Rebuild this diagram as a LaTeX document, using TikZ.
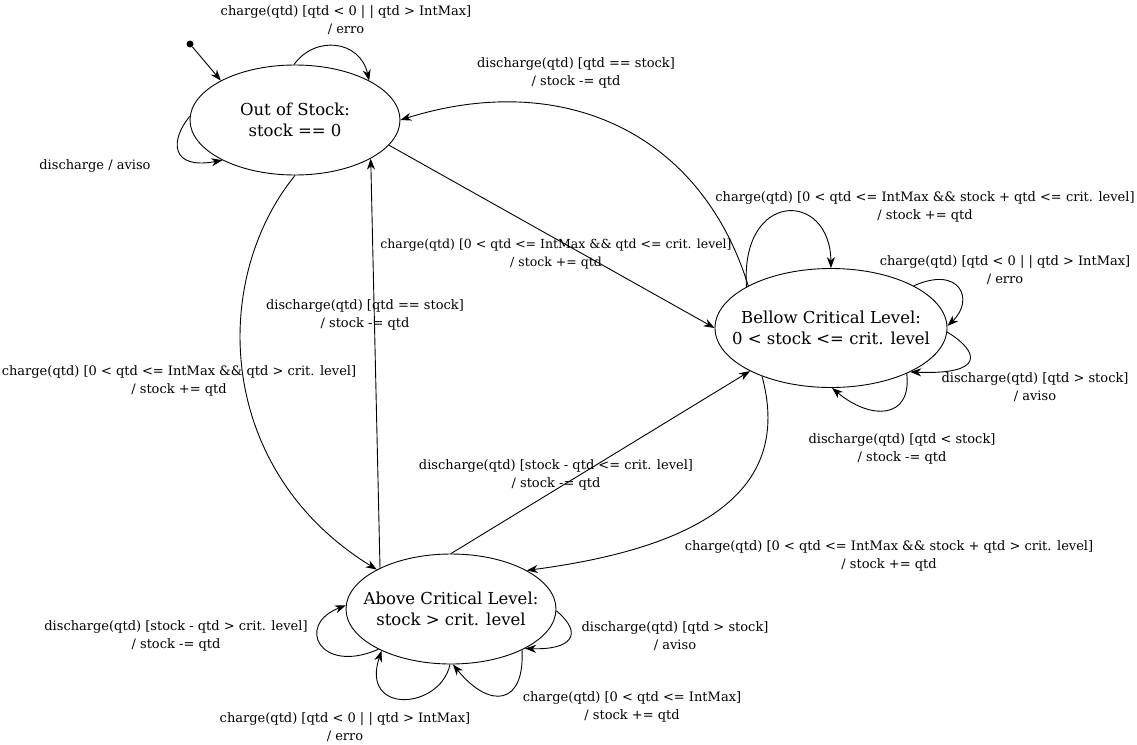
\documentclass[tikz,border=0pt]{standalone}
\usepackage{fontspec}
\setmainfont{DejaVu Serif}
\usetikzlibrary{shapes.geometric,arrows.meta}
\begin{document}
\begin{tikzpicture}[x=1pt,y=-1pt,
  state/.style={ellipse,draw,line width=0.9pt,inner xsep=-40pt,inner ysep=-20pt,align=center,font=\fontsize{16.5}{21}\selectfont},
  lbl/.style={align=center,inner sep=0pt,font=\fontsize{13}{18}\selectfont},
  edge/.style={line width=0.9pt,-{Stealth[length=11pt,width=8pt,inset=3.5pt]}}]
\useasboundingbox (0,0) rectangle (1137,744);
% states
\node[state,minimum width=210pt,minimum height=110pt] (out) at (295,120) {Out of Stock:\\stock == 0};
\node[state,minimum width=232pt,minimum height=119pt] (bel) at (831,328) {Bellow Critical Level:\\0 < stock <= crit. level};
\node[state,minimum width=210pt,minimum height=110pt] (abv) at (451,609) {Above Critical Level:\\stock > crit. level};
\node[circle,fill,inner sep=0pt,minimum size=7pt] (init) at (190,44) {};
% connectors
\draw[edge] (init) -- (out.152);
\draw[edge] (out.91) .. controls (315,35) and (360,40) .. (out.28);
\draw[edge] (out.178) .. controls (170,140) and (170,170) .. (out.-151);
\draw[edge] (bel.153) .. controls (700,130) and (560,70) .. (out.0);
\draw[edge] (out.-15.6) -- (bel.180);
\draw[edge] (out.-90) .. controls (210,280) and (215,470) .. (abv.152);
\draw[edge] (abv.150) -- (out.-27.5);
\draw[edge] (abv.90) -- (bel.-152);
\draw[edge] (bel.-145) .. controls (790,480) and (720,545) .. (abv.27);
\draw[edge] (bel.154) .. controls (740,190) and (830,190) .. (bel.90);
\draw[edge] (bel.27) .. controls (960,265) and (975,300) .. (bel.1);
\draw[edge] (bel.-2) .. controls (980,352) and (985,375) .. (bel.-29);
\draw[edge] (bel.-31) .. controls (912,420) and (870,420) .. (bel.-89);
\draw[edge] (abv.-151) .. controls (320,675) and (295,625) .. (abv.178);
\draw[edge] (abv.-91) .. controls (440,710) and (360,715) .. (abv.-149);
\draw[edge] (abv.-30) .. controls (525,705) and (490,710) .. (abv.-88);
\draw[edge] (abv.-1) .. controls (585,635) and (570,650) .. (abv.-28);
% labels
\node[lbl] (l1) at (346,20) {charge(qtd) [qtd < 0 | | qtd > IntMax]\\/ erro};
\node[lbl] (l2) at (95,166) {discharge / aviso};
\node[lbl] (l3) at (576,73) {discharge(qtd) [qtd == stock]\\/ stock -= qtd};
\node[lbl,font=\fontsize{12.5}{18}\selectfont] (l4) at (556,254) {charge(qtd) [0 < qtd <= IntMax \&\& qtd <= crit. level]\\/ stock += qtd};
\node[lbl] (l5) at (179,381) {charge(qtd) [0 < qtd <= IntMax \&\& qtd > crit. level]\\/ stock += qtd};
\node[lbl] (l6) at (365,315) {discharge(qtd) [qtd == stock]\\/ stock -= qtd};
\node[lbl] (l7) at (556,475) {discharge(qtd) [stock - qtd <= crit. level]\\/ stock -= qtd};
\node[lbl] (l8) at (889,556) {charge(qtd) [0 < qtd <= IntMax \&\& stock + qtd > crit. level]\\/ stock += qtd};
\node[lbl] (l9) at (925,207) {charge(qtd) [0 < qtd <= IntMax \&\& stock + qtd <= crit. level]\\/ stock += qtd};
\node[lbl] (l10) at (1005,270) {charge(qtd) [qtd < 0 | | qtd > IntMax]\\/ erro};
\node[lbl] (l11) at (1035,387) {discharge(qtd) [qtd > stock]\\/ aviso};
\node[lbl] (l12) at (902,449) {discharge(qtd) [qtd < stock]\\/ stock -= qtd};
\node[lbl] (l13) at (176,636) {discharge(qtd) [stock - qtd > crit. level]\\/ stock -= qtd};
\node[lbl] (l14) at (345,727) {charge(qtd) [qtd < 0 | | qtd > IntMax]\\/ erro};
\node[lbl] (l15) at (632,707) {charge(qtd) [0 < qtd <= IntMax]\\/ stock += qtd};
\node[lbl] (l16) at (675,636) {discharge(qtd) [qtd > stock]\\/ aviso};
\end{tikzpicture}
\end{document}
